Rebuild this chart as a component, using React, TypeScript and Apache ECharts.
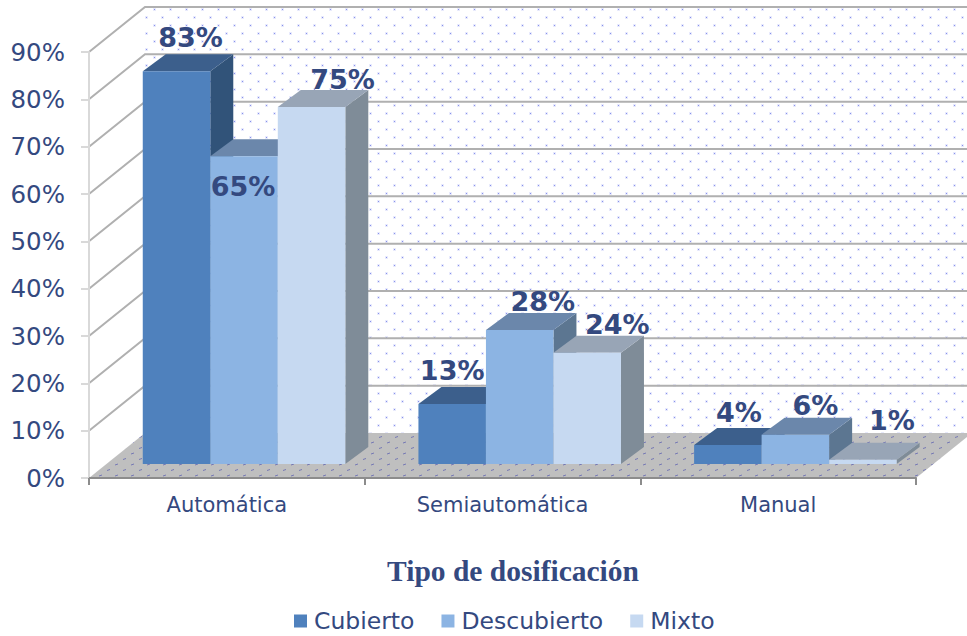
import React, { useEffect, useRef } from "react";
import * as echarts from "echarts";

const categories = ["Automática", "Semiautomática", "Manual"];
const seriesNames = ["Cubierto", "Descubierto", "Mixto"];
const cubierto = [83, 12.7, 4];
const descubierto = [65, 28.3, 6.2];
const mixto = [75.4, 23.5, 0.9];
const yTicks = [0, 10, 20, 30, 40, 50, 60, 70, 80, 90];

// label offsets relative to the top-centre of each bar's front face
const labelNudges = [
  [[14, -34], [0, -33], [11, -33]],
  [[-1, 30], [23, -29], [20, -29]],
  [[31, -28], [30, -28], [29, -39]],
];

const INK = "#34497f";
const WALL_DX = 56;
const WALL_DY = 45;
const FRONT_DX = 17.2;
const FRONT_DY = 14;
const DEPTH_DX = 23;
const DEPTH_DY = 17;
const BAR_RATIO = 0.2449;

const palette = [
  { front: "#4f81bd", top: "#3c5f8c", side: "#315379" },
  { front: "#8cb4e3", top: "#6b87ab", side: "#5c7691" },
  { front: "#c6d9f1", top: "#98a5b6", side: "#7f8c98" },
];

function wallPattern() {
  const c = document.createElement("canvas");
  c.width = 16;
  c.height = 16;
  const g = c.getContext("2d")!;
  const dot = (x: number, y: number) => {
    g.fillStyle = "rgba(150,160,240,0.22)";
    g.fillRect(x - 1, y - 1, 3, 3);
    g.fillStyle = "rgba(135,145,235,1)";
    g.fillRect(x, y, 1, 1);
  };
  dot(2, 1);
  dot(10, 9);
  return { image: c, repeat: "repeat", imageWidth: 16, imageHeight: 16 } as any;
}

function floorPattern() {
  const c = document.createElement("canvas");
  c.width = 16;
  c.height = 11;
  const g = c.getContext("2d")!;
  g.fillStyle = "#bfbfbf";
  g.fillRect(0, 0, 16, 11);
  const dash = (x: number, y: number) => {
    g.strokeStyle = "rgba(85,90,175,0.7)";
    g.lineWidth = 1;
    g.beginPath();
    g.moveTo(x, y + 1);
    g.lineTo(x + 3, y);
    g.stroke();
  };
  dash(3, 2);
  dash(11, 7.5);
  return { image: c, repeat: "repeat", imageWidth: 16, imageHeight: 11 } as any;
}

export default function App() {
  const ref = useRef<HTMLDivElement>(null);
  useEffect(() => {
    const chart = echarts.init(ref.current!, null, { renderer: "svg" });
    const wallFill = wallPattern();
    const floorFill = floorPattern();

    const renderWalls = (params: any, api: any) => {
      const cs = params.coordSys;
      const left = cs.x;
      const right = cs.x + cs.width;
      const yTop = api.coord([0, yTicks[yTicks.length - 1]])[1];
      const yBase = api.coord([0, 0])[1];
      const children: any[] = [
        {
          type: "polygon",
          shape: {
            points: [
              [left + WALL_DX, yTop - WALL_DY],
              [right + WALL_DX, yTop - WALL_DY],
              [right + WALL_DX, yBase - WALL_DY],
              [left + WALL_DX, yBase - WALL_DY],
            ],
          },
          style: { fill: wallFill },
        },
        {
          type: "polygon",
          shape: {
            points: [
              [left, yBase],
              [right, yBase],
              [right + WALL_DX, yBase - WALL_DY],
              [left + WALL_DX, yBase - WALL_DY],
            ],
          },
          style: { fill: floorFill },
        },
      ];
      yTicks.forEach((t) => {
        const y = api.coord([0, t])[1];
        if (t > 0) {
          children.push({
            type: "polyline",
            shape: {
              points: [
                [left, y],
                [left + WALL_DX, y - WALL_DY],
                [right + WALL_DX, y - WALL_DY],
              ],
            },
            style: { fill: "none", stroke: "#b0b0b0", lineWidth: 2 },
          });
        }
      });
      return { type: "group", children };
    };

    const renderBar = (si: number) => (_params: any, api: any) => {
      const cat = api.value(0);
      const v = api.value(1);
      const base = api.coord([cat, 0]);
      const top = api.coord([cat, v]);
      const w = api.size([1, 0])[0] * BAR_RATIO;
      const x0 = base[0] + FRONT_DX + (si - 1.5) * w;
      const x1 = x0 + w;
      const yb = base[1] - FRONT_DY;
      const yt = top[1] - FRONT_DY;
      const c = palette[si];
      const [nx, ny] = labelNudges[si][cat];
      return {
        type: "group",
        children: [
          {
            type: "polygon",
            shape: { points: [[x1, yt], [x1 + DEPTH_DX, yt - DEPTH_DY], [x1 + DEPTH_DX, yb - DEPTH_DY], [x1, yb]] },
            style: { fill: c.side },
          },
          {
            type: "polygon",
            shape: { points: [[x0, yt], [x1, yt], [x1 + DEPTH_DX, yt - DEPTH_DY], [x0 + DEPTH_DX, yt - DEPTH_DY]] },
            style: { fill: c.top },
          },
          {
            type: "rect",
            shape: { x: x0, y: yt, width: w, height: yb - yt },
            style: { fill: c.front },
          },
          {
            type: "text",
            style: {
              text: `${Math.max(1, Math.round(v))}%`,
              x: (x0 + x1) / 2 + nx,
              y: yt + ny,
              align: "center",
              verticalAlign: "middle",
              fill: INK,
              font: 'bold 27px "DejaVu Sans"',
            },
          },
        ],
      };
    };

    const seriesValues = [cubierto, descubierto, mixto];

    chart.setOption({
      animation: false,
      backgroundColor: "#ffffff",
      title: {
        text: "Tipo de dosificación",
        left: 508,
        top: 551,
        textAlign: "center",
        textStyle: { fontFamily: "Liberation Serif", fontWeight: "bold", fontSize: 29.5, color: INK },
      },
      legend: {
        data: seriesNames,
        left: 294,
        top: 609,
        icon: "rect",
        itemWidth: 13,
        itemHeight: 13,
        itemGap: 27,
        textStyle: { fontFamily: "DejaVu Sans", fontSize: 23.5, color: INK, padding: [0, 0, 0, 2] },
        padding: 0,
      },
      grid: { left: 89, top: 52, width: 827, height: 426 },
      xAxis: {
        type: "category",
        data: categories,
        axisLine: { show: true, lineStyle: { color: "#8c8c8c", width: 2 } },
        axisTick: { show: true, length: 7, lineStyle: { color: "#8c8c8c", width: 2 } },
        axisLabel: { fontFamily: "DejaVu Sans", fontSize: 21, color: INK, margin: 16 },
        splitLine: { show: false },
        z: 5,
      },
      yAxis: {
        type: "value",
        min: 0,
        max: 90,
        interval: 10,
        axisLine: { show: true, lineStyle: { color: "#d9d9d9", width: 2 } },
        axisTick: { show: true, length: 8, lineStyle: { color: "#d9d9d9", width: 2 } },
        axisLabel: { formatter: "{value}%", fontFamily: "DejaVu Sans", fontSize: 24.5, color: INK, margin: 24 },
        splitLine: { show: false },
        z: 5,
      },
      series: [
        {
          type: "custom",
          name: "walls",
          silent: true,
          z: 1,
          renderItem: renderWalls,
          data: [[0, 0]],
          encode: { x: 0, y: 1 },
        },
        ...seriesNames.map((name, si) => ({
          type: "custom",
          name,
          silent: true,
          z: 2 + si,
          itemStyle: { color: palette[si].front },
          renderItem: renderBar(si),
          data: seriesValues[si].map((v, i) => [i, v]),
          encode: { x: 0, y: 1 },
        })),
      ],
    });
    return () => chart.dispose();
  }, []);
  return <div ref={ref} style={{ position: "absolute", left: 0, top: 0, width: 967, height: 636 }} />;
}
